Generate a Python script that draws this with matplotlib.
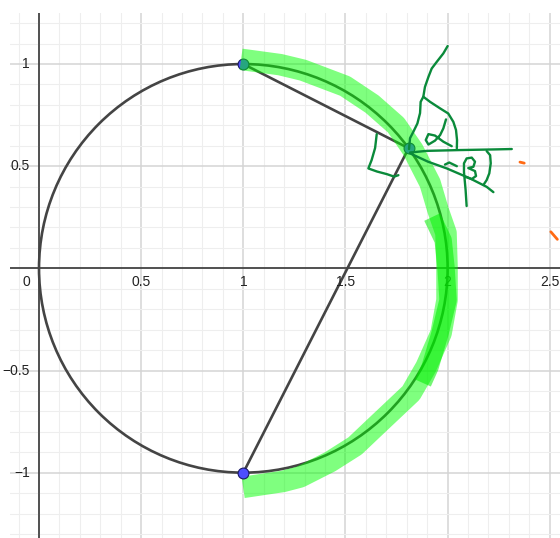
import matplotlib
matplotlib.use("Agg")
import matplotlib.pyplot as plt
from matplotlib.patches import Circle

# axis tick labels (drawn next to the axis lines, GeoGebra style)
x_ticks = [0.5, 1, 1.5, 2, 2.5]
x_labels = ["0.5", "1", "1.5", "2", "2.5"]
y_ticks = [1, 0.5, -0.5, -1]
y_labels = ["1", "0.5", "\u22120.5", "\u22121"]

# circle
circle_center = (1.0, 0.0)
circle_radius = 1.0

# points A (top), P (on arc), B (bottom)
pts_x = [1.0, 1.809, 1.0]
pts_y = [1.0, 0.588, -1.0]

# light highlighter stroke along the right half of the circle
hl_x = [0.989, 1.180, 1.292, 1.498, 1.630, 1.747, 1.831, 1.914, 1.953, 1.992, 1.997,
        1.997, 1.968, 1.894, 1.821, 1.645, 1.547, 1.424, 1.278, 1.194, 0.999]
hl_y = [1.023, 0.997, 0.970, 0.892, 0.804, 0.701, 0.579, 0.417, 0.285, 0.173, 0.006,
        -0.155, -0.317, -0.483, -0.610, -0.776, -0.869, -0.947, -1.021, -1.043, -1.072]

# second (overlapping) highlighter stroke near x = 2
hb_x = [1.924, 1.978, 1.992, 2.002, 1.963, 1.914, 1.879]
hb_y = [0.251, 0.138, 0.006, -0.155, -0.317, -0.483, -0.561]

# hand-drawn pen strokes
pen_long_x = [2.000, 1.979, 1.947, 1.922, 1.906, 1.889, 1.881, 1.868, 1.865, 1.852, 1.832, 1.816, 1.811]
pen_long_y = [1.088, 1.052, 1.011, 0.978, 0.937, 0.888, 0.840, 0.815, 0.760, 0.709, 0.668, 0.637, 0.584]
pen_arc_x = [1.881, 1.914, 1.963, 2.003, 2.028, 2.041, 2.046, 2.045]
pen_arc_y = [0.840, 0.815, 0.783, 0.758, 0.717, 0.677, 0.628, 0.587]
alpha_x = [1.992, 1.979, 1.963, 1.938, 1.906, 1.893, 1.906, 1.938, 1.979, 2.020]
alpha_y = [0.729, 0.685, 0.652, 0.625, 0.606, 0.628, 0.657, 0.650, 0.620, 0.598]
horiz_x = [1.816, 1.898, 2.061, 2.224, 2.314]
horiz_y = [0.567, 0.575, 0.579, 0.582, 0.584]
diag_x = [1.816, 1.904, 1.996, 2.110, 2.191, 2.224]
diag_y = [0.563, 0.522, 0.489, 0.440, 0.399, 0.373]
bracket_x = [2.191, 2.208, 2.211, 2.204, 2.191, 2.175]
bracket_y = [0.574, 0.554, 0.514, 0.465, 0.432, 0.408]
beta_x = [2.093, 2.088, 2.080, 2.080, 2.093, 2.118, 2.134, 2.126, 2.101, 2.134, 2.139, 2.118, 2.090]
beta_y = [0.305, 0.383, 0.471, 0.514, 0.538, 0.542, 0.522, 0.497, 0.491, 0.476, 0.452, 0.437, 0.447]
dash_x = [1.987, 2.008, 2.045]
dash_y = [0.508, 0.518, 0.500]
corner_x = [1.653, 1.645, 1.628, 1.612, 1.654, 1.703, 1.738, 1.759]
corner_y = [0.657, 0.589, 0.530, 0.489, 0.474, 0.461, 0.449, 0.456]

# two small orange marks
orange1_x = [2.354, 2.375]
orange1_y = [0.520, 0.515]
orange2_x = [2.505, 2.537]
orange2_y = [0.179, 0.142]

fig = plt.figure(figsize=(5.6, 5.38), dpi=100)
ax = fig.add_axes([10 / 560, 0, 550 / 560, 525 / 538])
ax.set_xlim(-0.142, 2.550)
ax.set_ylim(-1.319, 1.249)
ax.set_aspect("equal", adjustable="box")
for s in ax.spines.values():
    s.set_visible(False)

# grid
ax.set_xticks([i * 0.5 for i in range(0, 6)])
ax.set_yticks([i * 0.5 for i in range(-2, 3)])
ax.set_xticks([i * 0.1 for i in range(-1, 26)], minor=True)
ax.set_yticks([i * 0.1 for i in range(-13, 13)], minor=True)
ax.grid(which="minor", color="#eeeeee", lw=0.75, zorder=0)
ax.grid(which="major", color="#d4d4d4", lw=1.1, zorder=0)
ax.tick_params(which="both", length=0, labelbottom=False, labelleft=False)
ax.set_axisbelow(True)

# axis lines
ax.axhline(0, color="#2b2b2b", lw=1.1, zorder=1)
ax.axvline(0, color="#2b2b2b", lw=1.1, zorder=1)

font = dict(family=["Liberation Sans", "DejaVu Sans"], fontsize=10, color="#222222")
for t, lab in zip(x_ticks, x_labels):
    ax.annotate(lab, (t, 0), xytext=(0, -10), textcoords="offset points",
                ha="center", va="center", annotation_clip=False, **font)
ax.annotate("0", (0, 0), xytext=(-6.5, -10), textcoords="offset points",
            ha="right", va="center", **font)
for t, lab in zip(y_ticks, y_labels):
    ax.annotate(lab, (0, t), xytext=(-6.5, 0), textcoords="offset points",
                ha="right", va="center", annotation_clip=False, **font)

# circle and segments
ax.add_patch(Circle(circle_center, circle_radius, fill=False, ec="#444444", lw=1.9, zorder=2))
ax.plot(pts_x, pts_y, color="#444444", lw=1.9, zorder=2, solid_capstyle="round")
ax.plot(pts_x[:2], pts_y[:2], "o", ms=7.8, mfc="#4d4dff", mec="#1a1a66", mew=0.8, zorder=3)

# highlighter strokes
ax.plot(hl_x, hl_y, color="#00ff00", alpha=0.5, lw=15.5, solid_capstyle="butt",
        solid_joinstyle="round", zorder=4)
ax.plot(hb_x, hb_y, color="#00ee00", alpha=0.55, lw=12.5, solid_capstyle="butt",
        solid_joinstyle="round", zorder=4)

ax.plot(pts_x[2:], pts_y[2:], "o", ms=7.8, mfc="#4d4dff", mec="#1a1a66", mew=0.8, zorder=5)

# pen strokes
pen = dict(color="#0a8a3a", lw=1.7, solid_capstyle="round", solid_joinstyle="round", zorder=6)
for xs, ys in [(pen_long_x, pen_long_y), (pen_arc_x, pen_arc_y), (alpha_x, alpha_y),
               (horiz_x, horiz_y), (diag_x, diag_y), (bracket_x, bracket_y),
               (beta_x, beta_y), (dash_x, dash_y), (corner_x, corner_y)]:
    ax.plot(xs, ys, **pen)

for xs, ys in [(orange1_x, orange1_y), (orange2_x, orange2_y)]:
    ax.plot(xs, ys, color="#ff6a13", lw=2, solid_capstyle="round", zorder=6)

fig.savefig("out.png", dpi=100)
